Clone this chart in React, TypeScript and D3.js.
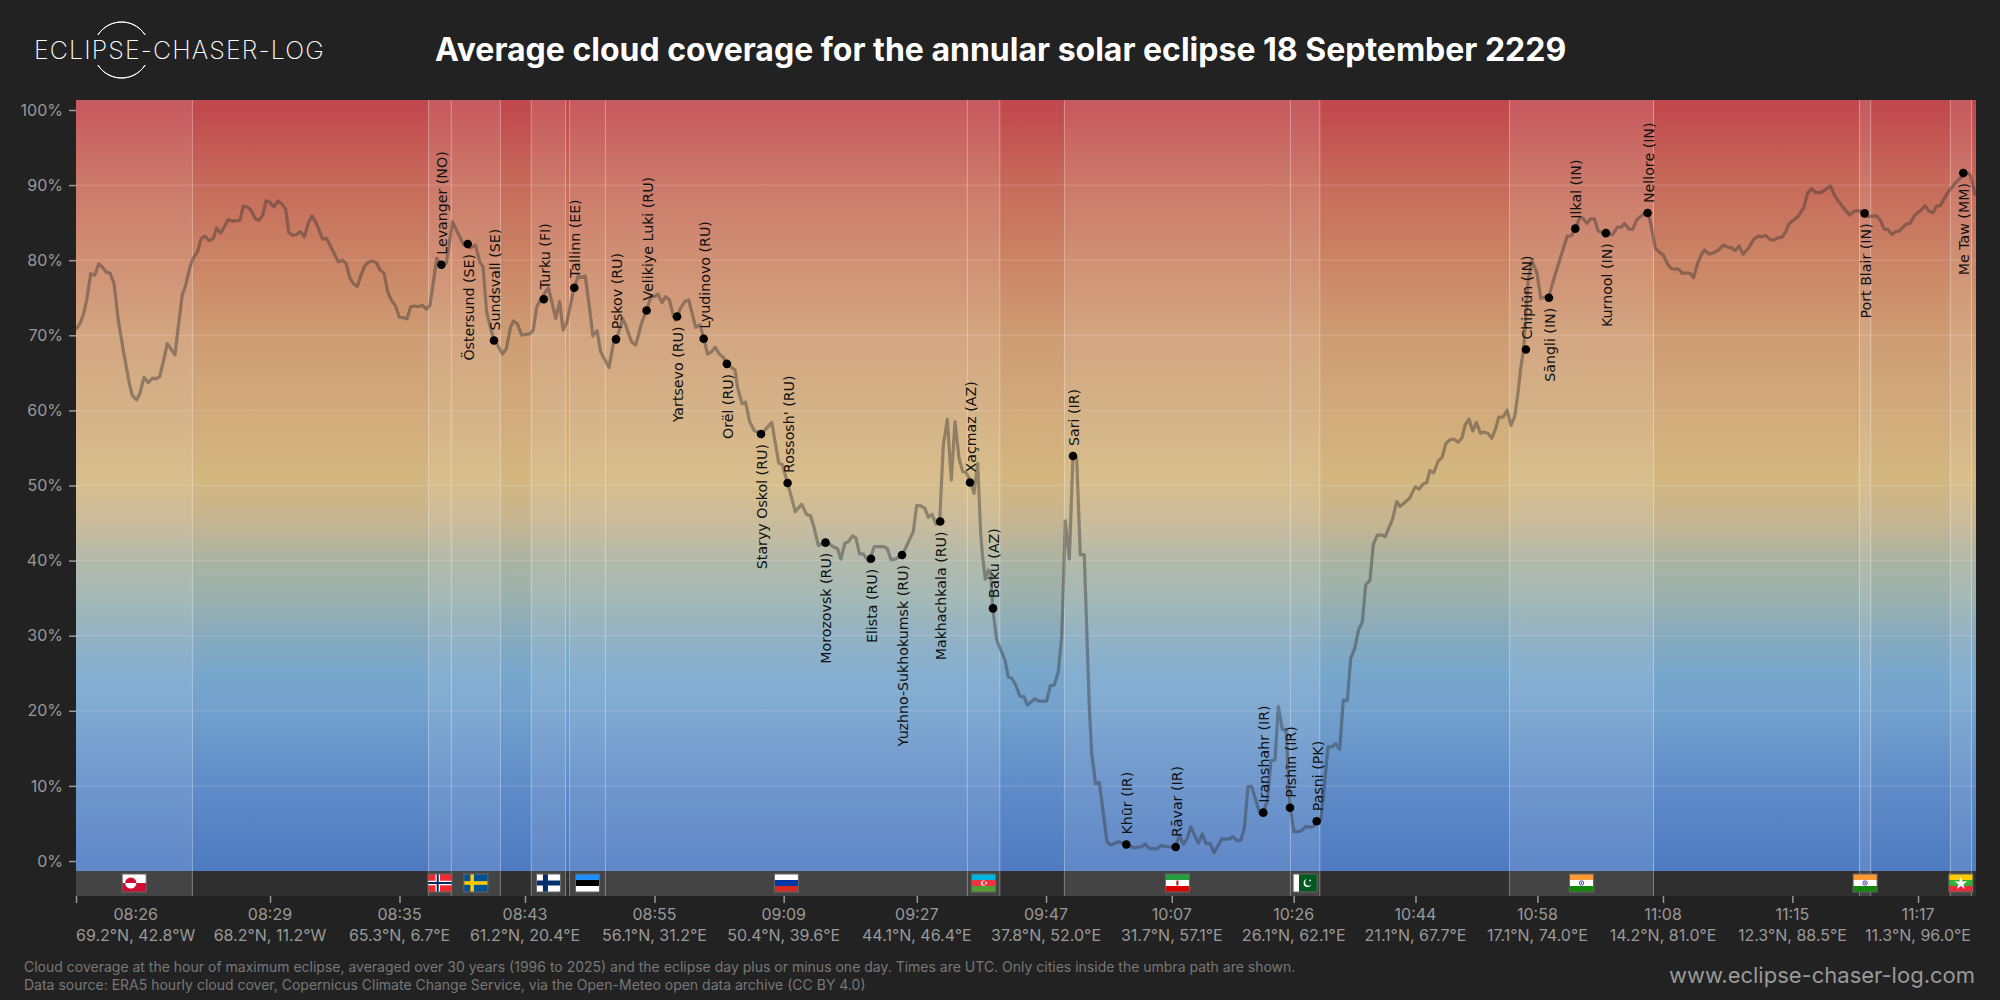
import React, { useEffect, useRef } from 'react';
import * as d3 from 'd3';

const yTicks = [0, 10, 20, 30, 40, 50, 60, 70, 80, 90, 100];

// along-track position of each axis tick (track runs 0 to 1900)
const tickTrack = [0, 194, 323.5, 449, 578.5, 707.7, 840.8, 970, 1095.8, 1217.7, 1339.5, 1461.4, 1587, 1716.4, 1842];
const tickTimes = ['08:26', '08:29', '08:35', '08:43', '08:55', '09:09', '09:27', '09:47', '10:07', '10:26', '10:44', '10:58', '11:08', '11:15', '11:17'];
const tickCoords = [
  '69.2°N, 42.8°W', '68.2°N, 11.2°W', '65.3°N, 6.7°E', '61.2°N, 20.4°E', '56.1°N, 31.2°E',
  '50.4°N, 39.6°E', '44.1°N, 46.4°E', '37.8°N, 52.0°E', '31.7°N, 57.1°E', '26.1°N, 62.1°E',
  '21.1°N, 67.7°E', '17.1°N, 74.0°E', '14.2°N, 81.0°E', '12.3°N, 88.5°E', '11.3°N, 96.0°E',
];

// land spans along the track: flag code, start, end
const countries: [string, number, number][] = [
  ['GL', 0, 116.4], ['NO', 352.6, 375.3], ['SE', 375.3, 424.4], ['FI', 455.25, 489.6], ['EE', 493.6, 529.4],
  ['RU', 529.4, 891.4], ['AZ', 891.4, 923.8], ['IR', 988.4, 1214.4], ['PK', 1214.4, 1243.8],
  ['IN', 1433.6, 1577.5], ['IN', 1783.5, 1794.7], ['MM', 1874.3, 1895.5],
];

// name, track, cloud %, label above the dot?
const cities: [string, number, number, boolean][] = [
  ['Levanger (NO)', 365.4, 79.4, true], ['Östersund (SE)', 391.7, 82.16, false], ['Sundsvall (SE)', 418, 69.3, true],
  ['Turku (FI)', 467.8, 74.8, true], ['Tallinn (EE)', 498.3, 76.34, true], ['Pskov (RU)', 540, 69.46, true],
  ['Velikiye Luki (RU)', 570.6, 73.3, true], ['Yartsevo (RU)', 601.1, 72.5, false], ['Lyudinovo (RU)', 627.7, 69.55, true],
  ['Orël (RU)', 650.9, 66.2, false], ['Staryy Oskol (RU)', 685, 56.85, false], ["Rossosh' (RU)", 711.6, 50.33, true],
  ['Morozovsk (RU)', 749.5, 42.39, false], ['Elista (RU)', 795, 40.25, false], ['Yuzhno-Sukhokumsk (RU)', 826, 40.75, false],
  ['Makhachkala (RU)', 864.2, 45.2, false], ['Xaçmaz (AZ)', 894, 50.4, true], ['Baku (AZ)', 917, 33.64, true],
  ['Sari (IR)', 997, 53.93, true], ['Khūr (IR)', 1050.3, 2.2, true], ['Rāvar (IR)', 1099.7, 1.86, true],
  ['Iranshahr (IR)', 1187.3, 6.44, true], ['Pīshīn (IR)', 1214, 7.1, true], ['Pasni (PK)', 1240.7, 5.3, true],
  ['Chiplūn (IN)', 1449.9, 68.1, true], ['Sāngli (IN)', 1472.9, 75, false], ['Ilkal (IN)', 1499.3, 84.2, true],
  ['Kurnool (IN)', 1529.9, 83.6, false], ['Nellore (IN)', 1571.6, 86.28, true], ['Port Blair (IN)', 1788.6, 86.24, false],
  ['Me Taw (MM)', 1887.3, 91.6, false],
];

// cloud cover along the track: [track, %]
const cloudAtlantic: [number, number][] = [
  [0, 70.8], [4, 71.6], [7.3, 72.7], [10.7, 74.7], [14.7, 78.2], [18.7, 78], [22.7, 79.5], [26.7, 79.05], [30.3, 78.4], [34, 78.3],
  [38, 76.9], [42.3, 72], [47.3, 68], [53, 63.8], [56.3, 62], [60.7, 61.4], [64, 62.3], [68, 64.4], [72.3, 63.7], [76.7, 64.3],
  [80, 64.2], [83.7, 64.5], [87.3, 66.5], [91.3, 68.9], [99, 67.4], [102.3, 71.2], [106.3, 75.4], [109.7, 76.7], [114, 79.1], [117.3, 80.3],
  [121.7, 81.2], [125.3, 82.9], [129, 83.2], [133, 82.6], [137.3, 82.9], [140.7, 84.3], [144.7, 83.6], [152.3, 85.4], [156.7, 85.2], [164, 85.3],
  [167.3, 87.2], [171.3, 87.1], [175.3, 86.6], [179.3, 85.5], [183, 85.35], [186.7, 86], [190, 87.9], [194, 87.7], [197.7, 87.1], [202, 87.9],
  [205.7, 87.5], [209.7, 86.8], [212.7, 83.7], [216.7, 83.3], [220.3, 83.4], [224.7, 83.8], [228.3, 83.1], [232.3, 84.9], [236, 85.9], [240, 85],
  [246.7, 82.8], [250.7, 82.9], [262.3, 79.8], [266.3, 80], [270, 79.6], [274, 77.6], [277.3, 76.9], [281.3, 76.5], [285, 78], [289, 79.3],
  [293.3, 79.8], [296.7, 79.9], [300.7, 79.6], [304, 78.7], [308, 78.3], [311.7, 75.8], [315.7, 74.6], [319.3, 74], [323.3, 72.4], [327.3, 72.35],
  [331, 72.2], [334.7, 73.8], [338.7, 73.9], [342.3, 73.8], [346.3, 74], [350.3, 73.5], [354, 74],
];
const cloudEurope: [number, number][] = [
  [360.8, 80.25], [364.3, 79.6], [370.3, 79.6], [376.6, 85.1], [381.9, 83.6], [387.1, 82.2], [394.1, 81.6], [399.4, 82], [404, 79.7], [407.1, 79.1],
  [410.6, 73.1], [417, 69.8], [426.4, 67.5], [430.3, 68.2], [434.5, 71.06], [437.3, 71.9], [441.5, 71.5], [445.7, 70], [453.8, 70.2], [457.3, 70.7],
  [460.8, 73.8], [466, 75.1], [472.4, 76.3], [479.7, 72.25], [483.6, 74.5], [487.1, 70.7], [491, 71.8], [497.6, 76], [502.2, 77.9], [505.7, 77.7],
  [509.2, 77.9], [513.4, 73.8], [516.9, 69.9], [521.1, 70.6], [524.6, 67.8], [533, 65.7], [538, 69.4], [542.2, 70.2], [546.7, 72.25], [550.2, 71.15],
  [555.5, 69.15], [559.7, 68.7], [566, 71.8], [571.3, 73.6], [574.8, 75.15], [578.3, 75.15], [581.8, 75.5], [586, 74.35], [589.5, 75.15], [593.4, 74.7],
  [597.6, 72.5], [599.3, 72], [604.6, 73.6], [608.8, 74.5], [612.7, 74.7], [619.7, 71.06], [623.9, 71.4], [627.4, 69.8], [631.6, 67.5], [635.5, 67.8],
  [639.3, 68.4], [643.2, 67.5], [646.7, 67.15], [650.9, 66.3], [655.5, 65.7], [659, 65.4], [661.4, 63.15], [666, 60.9], [669.5, 61.1], [673.7, 58.5],
  [678.3, 57.3], [685.3, 56.85], [690.5, 57.6], [695.8, 58.4], [702.8, 52.95], [706.3, 52.8], [711.6, 50.3], [716.1, 48.1], [719.3, 46.5], [725.6, 47.5],
  [730.9, 46.1], [734.4, 46], [737.9, 44.5], [742.4, 42], [749.5, 42.4], [753.7, 42.2], [757.2, 41.85], [761.4, 41.6], [764.9, 40.2], [768.8, 42.3],
  [772.3, 42.5], [776.5, 43.3], [780, 43], [783.5, 40.9], [787, 40.9], [793, 39.85], [798.2, 41.85], [808, 41.85], [811.5, 41.55], [815, 40.1],
  [819.3, 40.2], [826.3, 40.75], [837.3, 43.85], [840.7, 47.36], [844.7, 47.3], [848.7, 47], [852.3, 45.76], [856, 46.16], [860, 44.87], [863.7, 45.27],
];
const cloudIran: [number, number][] = [
  [867.3, 55.4], [871.3, 58.8], [875.3, 50.7], [879, 58.5], [883, 53.6], [886.7, 51.84], [890, 51.75], [894.7, 50.5], [898, 48.95], [901.7, 52.95],
  [904.7, 43.6], [906.3, 40.96], [909.3, 37.5], [912.3, 38.75], [914.7, 38.3], [916.7, 33.64], [920.7, 29.43], [924.7, 28.1], [929, 26.76], [932.3, 24.46],
  [935.7, 24.37], [939.7, 23.44], [944, 21.93], [948, 21.88], [951.3, 20.77], [959, 21.6], [963, 21.3], [970.7, 21.3], [974.3, 23.35], [978.3, 23.43],
  [982.3, 25.2], [985.7, 29.87], [987.3, 36.5], [989.3, 45.3], [993.3, 40.2], [997, 53.9], [1000.7, 53.6], [1004.3, 40.8], [1008.3, 40.8], [1011.3, 28.5],
  [1013.3, 20.5], [1015.7, 14.3], [1019.7, 10.25], [1023.3, 10.47], [1027.3, 6.35], [1031, 2.57], [1034.7, 2.13], [1042.3, 2.57], [1050, 2.26], [1057.3, 1.77],
  [1065.7, 1.9], [1069, 2.26], [1073, 1.68], [1080.7, 1.6], [1084.7, 2.04], [1092.3, 1.9], [1099.7, 1.86], [1103.3, 3.46], [1107.3, 2.2], [1111.3, 3],
  [1114.7, 4.57], [1122.3, 2.35], [1126.3, 3.6], [1130, 2.35], [1134, 2.35], [1138, 1.1], [1145.7, 2.9], [1153, 2.9], [1156.7, 3.24], [1160.7, 2.7],
  [1164.7, 2.75], [1168.3, 4.35], [1172, 9.9], [1175.7, 9.9], [1179.7, 8.1], [1183.7, 6.35], [1187.3, 6.4], [1191.3, 8.1], [1195, 13.36], [1199, 13.45],
  [1202.3, 20.55], [1206.3, 17.5], [1210, 17.5], [1214, 7.2], [1218, 3.9], [1222, 3.9], [1225.7, 4.04], [1229.7, 4.57], [1234, 4.5], [1237.3, 4.57],
  [1244.7, 5.55], [1248, 9.45], [1252, 15.2], [1256, 15.2], [1259.7, 15.6], [1263.7, 14.87], [1267.3, 21.44], [1271.3, 21.35], [1274.7, 26.98], [1278.7, 28.3],
  [1282.7, 30.85], [1286.3, 31.8], [1289.7, 36.75], [1294, 37.4], [1297.3, 42.17], [1301.3, 43.4], [1305.3, 43.4], [1309.3, 43.2], [1316.7, 45.6], [1320.7, 47.85],
];
const cloudIndia: [number, number][] = [
  [1324, 47.2], [1333.6, 48.3], [1339.3, 49.85], [1343.1, 49.5], [1347, 50.2], [1350.8, 50.4], [1353.9, 51.97], [1357.7, 51.7], [1362.3, 53.3], [1366.1, 53.75],
  [1369.9, 55.6], [1373.8, 56.06], [1377.6, 56.2], [1382.2, 55.75], [1386, 56.35], [1389.1, 58.05], [1392.9, 58.85], [1396.7, 57.25], [1400.5, 58.4], [1404.4, 56.95],
  [1407.4, 57.1], [1412, 56.95], [1415.8, 56.3], [1419.7, 57.6], [1422.7, 59.07], [1427.3, 59.15], [1431.2, 60.05], [1435, 57.97], [1438.8, 59.25], [1441.9, 62.27],
  [1444.9, 65.8], [1447.6, 68.1], [1452.2, 77.4], [1456, 79.94], [1461, 78.25], [1464.8, 74.9], [1469.4, 75.15], [1472.5, 75], [1479, 78], [1483.6, 80],
  [1491.2, 83.2], [1495.4, 83.26], [1499.3, 84.2], [1503.9, 85.7], [1507, 85.57], [1510.8, 84.9], [1514.6, 85.5], [1518.4, 85.5], [1522.2, 83.9], [1526.8, 83.6],
  [1532.6, 83.6], [1536.4, 83.36], [1541.4, 84.4], [1545.2, 84.4], [1548.6, 84.9], [1552.9, 84.15], [1556.7, 84.1], [1560.5, 85.35], [1564.3, 85.8], [1571.6, 86.55],
  [1574.7, 84.9], [1579.3, 81.6], [1583.5, 81.05], [1587.3, 80.7], [1591.1, 79.6], [1595, 78.9], [1598.8, 78.8], [1602.6, 78.8], [1606.4, 78.25], [1611, 78.3],
];
const cloudBengal: [number, number][] = [
  [1614.1, 78.25], [1617.5, 77.67], [1621.7, 79.6], [1625.2, 80.7], [1628.6, 81.36], [1633.2, 80.8], [1637.8, 81], [1642.4, 81.36], [1647.4, 82], [1651.2, 81.76],
  [1655.4, 81.67], [1659.2, 81.27], [1663.1, 81.9], [1666.9, 80.8], [1672.3, 81.58], [1678, 82.8], [1681.8, 83.2], [1685.7, 83.13], [1689.5, 83.3], [1694.5, 82.7],
  [1698.3, 82.7], [1702.1, 83], [1706, 83.04], [1709.8, 83.8], [1712.8, 84.8], [1717.4, 85.35], [1722, 85.8], [1727.7, 87], [1731.6, 88.9], [1735.4, 89.5],
  [1740, 89], [1745, 89.03], [1749.6, 89.4], [1754.5, 89.9], [1758.4, 88.68], [1762.2, 87.9], [1767.9, 86.9], [1773.7, 86], [1778.3, 86.55], [1783.2, 86.6],
  [1788.2, 86.24], [1791.7, 85.8], [1800.5, 85.9], [1804.3, 85.35], [1808.1, 84.15], [1812, 84.1], [1815.8, 83.44], [1819.6, 83.8], [1823.4, 83.9], [1829.9, 84.8],
  [1834.1, 84.9], [1838.7, 86], [1844.5, 86.6], [1849.1, 87.26], [1852.9, 86.55], [1857.1, 86.33], [1860.5, 87.2], [1864.4, 87.3], [1871.3, 88.9], [1878.9, 90.2],
  [1887.3, 91.35], [1891.5, 91.6], [1894.2, 91.35], [1896.9, 90], [1899.2, 88.6],
];

const gradientPct = [101.3, 100, 90, 80, 70, 60, 51, 45, 40, 35, 30, 25, 20, 10, 0, -1.3];
const gradientColors = ['#c0494d', '#c14a4e', '#c76b5a', '#cb8465', '#ce9c73', '#d1aa7b', '#d4b77f', '#c5b591', '#aab3a2', '#9bb1ae', '#87aabe', '#78a7cc', '#72a0cc', '#5f8cc8', '#507cc2', '#4f7bc2'];

const FONT = 'Inter, sans-serif';

const flagDraw: Record<string, (f: any) => void> = {
  GL: f => {
    f.append('rect').attr('width', 24).attr('height', 9).attr('fill', '#fff');
    f.append('rect').attr('y', 9).attr('width', 24).attr('height', 9).attr('fill', '#d00c33');
    f.append('path').attr('d', 'M3 9a5.6 5.6 0 0 1 11.2 0z').attr('fill', '#d00c33');
    f.append('path').attr('d', 'M3 9a5.6 5.6 0 0 0 11.2 0z').attr('fill', '#fff');
  },
  NO: f => {
    f.append('rect').attr('width', 24).attr('height', 18).attr('fill', '#ef2b2d');
    f.append('rect').attr('x', 7.5).attr('width', 4.5).attr('height', 18).attr('fill', '#fff');
    f.append('rect').attr('y', 6.75).attr('width', 24).attr('height', 4.5).attr('fill', '#fff');
    f.append('rect').attr('x', 8.75).attr('width', 2).attr('height', 18).attr('fill', '#002868');
    f.append('rect').attr('y', 8).attr('width', 24).attr('height', 2).attr('fill', '#002868');
  },
  SE: f => {
    f.append('rect').attr('width', 24).attr('height', 18).attr('fill', '#005293');
    f.append('rect').attr('x', 6.5).attr('width', 3.6).attr('height', 18).attr('fill', '#fecb00');
    f.append('rect').attr('y', 7.2).attr('width', 24).attr('height', 3.6).attr('fill', '#fecb00');
  },
  FI: f => {
    f.append('rect').attr('width', 24).attr('height', 18).attr('fill', '#fff');
    f.append('rect').attr('x', 6.5).attr('width', 5).attr('height', 18).attr('fill', '#002f6c');
    f.append('rect').attr('y', 6.5).attr('width', 24).attr('height', 5).attr('fill', '#002f6c');
  },
  EE: f => {
    f.append('rect').attr('width', 24).attr('height', 6).attr('fill', '#1e90ff');
    f.append('rect').attr('y', 6).attr('width', 24).attr('height', 6).attr('fill', '#000');
    f.append('rect').attr('y', 12).attr('width', 24).attr('height', 6).attr('fill', '#fff');
  },
  RU: f => {
    f.append('rect').attr('width', 24).attr('height', 6).attr('fill', '#fff');
    f.append('rect').attr('y', 6).attr('width', 24).attr('height', 6).attr('fill', '#0039a6');
    f.append('rect').attr('y', 12).attr('width', 24).attr('height', 6).attr('fill', '#d52b1e');
  },
  AZ: f => {
    f.append('rect').attr('width', 24).attr('height', 6).attr('fill', '#00b5e2');
    f.append('rect').attr('y', 6).attr('width', 24).attr('height', 6).attr('fill', '#ef3340');
    f.append('rect').attr('y', 12).attr('width', 24).attr('height', 6).attr('fill', '#509e2f');
    f.append('circle').attr('cx', 12).attr('cy', 9).attr('r', 2.6).attr('fill', '#fff');
    f.append('circle').attr('cx', 12.8).attr('cy', 9).attr('r', 2.1).attr('fill', '#ef3340');
    f.append('circle').attr('cx', 14.6).attr('cy', 9).attr('r', 0.9).attr('fill', '#fff');
  },
  IR: f => {
    f.append('rect').attr('width', 24).attr('height', 6).attr('fill', '#239f40');
    f.append('rect').attr('y', 6).attr('width', 24).attr('height', 6).attr('fill', '#fff');
    f.append('rect').attr('y', 12).attr('width', 24).attr('height', 6).attr('fill', '#da0000');
    f.append('rect').attr('x', 11).attr('y', 6.6).attr('width', 2).attr('height', 4.8).attr('fill', '#da0000');
  },
  PK: f => {
    f.append('rect').attr('width', 6).attr('height', 18).attr('fill', '#fff');
    f.append('rect').attr('x', 6).attr('width', 18).attr('height', 18).attr('fill', '#01591f');
    f.append('circle').attr('cx', 14.5).attr('cy', 9).attr('r', 4).attr('fill', '#fff');
    f.append('circle').attr('cx', 15.7).attr('cy', 8.2).attr('r', 3.6).attr('fill', '#01591f');
    f.append('circle').attr('cx', 17).attr('cy', 6.4).attr('r', 0.9).attr('fill', '#fff');
  },
  IN: f => {
    f.append('rect').attr('width', 24).attr('height', 6).attr('fill', '#ff9933');
    f.append('rect').attr('y', 6).attr('width', 24).attr('height', 6).attr('fill', '#fff');
    f.append('rect').attr('y', 12).attr('width', 24).attr('height', 6).attr('fill', '#138808');
    f.append('circle').attr('cx', 12).attr('cy', 9).attr('r', 2.2).attr('fill', 'none').attr('stroke', '#000080').attr('stroke-width', 0.7);
    f.append('circle').attr('cx', 12).attr('cy', 9).attr('r', 0.8).attr('fill', '#000080');
  },
  MM: f => {
    f.append('rect').attr('width', 24).attr('height', 6).attr('fill', '#fecb00');
    f.append('rect').attr('y', 6).attr('width', 24).attr('height', 6).attr('fill', '#34b233');
    f.append('rect').attr('y', 12).attr('width', 24).attr('height', 6).attr('fill', '#ea2839');
    f.append('path').attr('d', d3.symbol().type(d3.symbolStar).size(50)() as string).attr('transform', 'translate(12,9.5)').attr('fill', '#fff');
  },
};

const App: React.FC = () => {
  const ref = useRef<SVGSVGElement>(null);

  useEffect(() => {
    if (!ref.current) return;
    const svg = d3.select(ref.current);
    svg.selectAll('*').remove();

    const width = 2000;
    const height = 1000;
    const margin = { left: 76, right: 24, top: 100, plotBottom: 871, bandBottom: 896 };

    svg.append('rect').attr('width', width).attr('height', height).attr('fill', '#222222');

    const x = d3.scaleLinear().domain([0, 1900]).range([margin.left, width - margin.right]);
    const y = d3.scaleLinear().domain([0, 100]).range([861, 110]);

    const defs = svg.append('defs');
    const grad = defs.append('linearGradient')
      .attr('id', 'cloudGrad')
      .attr('gradientUnits', 'userSpaceOnUse')
      .attr('x1', 0).attr('x2', 0)
      .attr('y1', y(gradientPct[0])).attr('y2', y(gradientPct[gradientPct.length - 1]));
    const span = y(gradientPct[gradientPct.length - 1]) - y(gradientPct[0]);
    gradientPct.forEach((p, i) => {
      grad.append('stop')
        .attr('offset', (y(p) - y(gradientPct[0])) / span)
        .attr('stop-color', gradientColors[i]);
    });

    // Plot background and flag strip
    svg.append('rect')
      .attr('x', x(0)).attr('y', margin.top)
      .attr('width', x(1900) - x(0)).attr('height', margin.plotBottom - margin.top)
      .attr('fill', 'url(#cloudGrad)');
    svg.append('rect')
      .attr('x', x(0)).attr('y', margin.plotBottom)
      .attr('width', x(1900) - x(0)).attr('height', margin.bandBottom - margin.plotBottom)
      .attr('fill', '#2f2f2f');

    // Land spans
    svg.selectAll('.land')
      .data(countries)
      .enter().append('rect')
      .attr('class', 'land')
      .attr('x', d => x(d[1]))
      .attr('y', margin.top)
      .attr('width', d => x(d[2]) - x(d[1]))
      .attr('height', margin.bandBottom - margin.top)
      .attr('fill', 'rgba(255,255,255,0.1)');

    const edges = Array.from(new Set(countries.flatMap(d => [d[1], d[2]]))).filter(d => d > 0);
    svg.selectAll('.edge')
      .data(edges)
      .enter().append('line')
      .attr('class', 'edge')
      .attr('x1', d => x(d)).attr('x2', d => x(d))
      .attr('y1', margin.top).attr('y2', margin.bandBottom)
      .attr('stroke', 'rgba(255,255,255,0.35)')
      .attr('stroke-width', 1);

    // Grid
    svg.selectAll('.grid')
      .data(yTicks.filter(d => d > 0 && d < 100))
      .enter().append('line')
      .attr('class', 'grid')
      .attr('x1', x(0)).attr('x2', x(1900))
      .attr('y1', d => y(d)).attr('y2', d => y(d))
      .attr('stroke', 'rgba(255,255,255,0.16)')
      .attr('stroke-width', 1);

    // Cloud line
    const cloudLine = [...cloudAtlantic, ...cloudEurope, ...cloudIran, ...cloudIndia, ...cloudBengal];
    const line = d3.line<[number, number]>().x(d => x(d[0])).y(d => y(d[1]));
    svg.append('path')
      .datum(cloudLine)
      .attr('d', line)
      .attr('fill', 'none')
      .attr('stroke', 'rgba(50,50,50,0.42)')
      .attr('stroke-width', 3.2)
      .attr('stroke-linejoin', 'round');

    // Cities
    svg.selectAll('.city')
      .data(cities)
      .enter().append('circle')
      .attr('class', 'city')
      .attr('cx', d => x(d[1]))
      .attr('cy', d => y(d[2]))
      .attr('r', 4.3)
      .attr('fill', '#000');

    svg.selectAll('.cityLabel')
      .data(cities)
      .enter().append('text')
      .attr('class', 'cityLabel')
      .attr('transform', d => `translate(${x(d[1]) + 1},${y(d[2]) + (d[3] ? -10 : 10)}) rotate(-90)`)
      .attr('dy', '0.35em')
      .attr('text-anchor', d => (d[3] ? 'start' : 'end'))
      .style('font-family', '"DejaVu Sans", sans-serif')
      .style('font-size', '14.2px')
      .style('fill', '#111')
      .text(d => d[0]);

    // Y axis
    const yAxis = svg.append('g')
      .attr('transform', `translate(${margin.left},0)`)
      .call(d3.axisLeft(y).tickValues(yTicks).tickFormat(d => `${d}%`).tickSize(7).tickPadding(6));
    yAxis.select('.domain').remove();
    yAxis.selectAll('text').style('fill', '#999').style('font-family', FONT).style('font-size', '16px');
    yAxis.selectAll('.tick line').style('stroke', '#999').style('stroke-width', 1.5);

    // X axis
    const xAxis = svg.append('g')
      .attr('transform', `translate(0,${margin.bandBottom})`)
      .call(d3.axisBottom(x).tickValues(tickTrack).tickFormat(() => '').tickSize(7));
    xAxis.select('.domain').remove();
    xAxis.selectAll('.tick line').style('stroke', '#999').style('stroke-width', 1.5);

    tickTrack.forEach((t, i) => {
      const g = svg.append('g').style('font-family', FONT).style('font-size', '16px').style('fill', '#999').attr('text-anchor', 'middle');
      const coord = g.append('text').attr('y', 941).text(tickCoords[i]);
      g.append('text').attr('y', 920).text(tickTimes[i]);
      const w = (coord.node() as SVGTextElement).getComputedTextLength();
      // keep the first label inside the plot's left edge
      g.attr('transform', `translate(${Math.max(x(t), margin.left + w / 2)},0)`);
    });

    // Flags
    countries.forEach(([code, a, b]) => {
      const f = svg.append('g').attr('transform', `translate(${x((a + b) / 2) - 12},874)`);
      flagDraw[code](f);
      f.append('rect').attr('width', 24).attr('height', 18).attr('fill', 'none').attr('stroke', '#666').attr('stroke-width', 1);
    });

    // Header
    svg.append('text')
      .attr('x', 435).attr('y', 61)
      .style('font-family', FONT).style('font-weight', 700).style('font-size', '32px').style('fill', '#fff')
      .text('Average cloud coverage for the annular solar eclipse 18 September 2229');

    svg.append('text')
      .attr('x', 34).attr('y', 59)
      .style('font-family', FONT).style('font-weight', 200).style('font-size', '25px').style('letter-spacing', '1.1px').style('fill', '#fff')
      .text('ECLIPSE-CHASER-LOG');
    const arc = d3.arc();
    const arcs = [
      { startAngle: -1.0, endAngle: 1.0 },
      { startAngle: Math.PI - 1.0, endAngle: Math.PI + 1.0 },
    ];
    arcs.forEach(a => {
      svg.append('path')
        .attr('d', arc({ innerRadius: 28, outerRadius: 28, ...a }) as string)
        .attr('transform', 'translate(121.5,50)')
        .attr('fill', 'none').attr('stroke', '#fff').attr('stroke-width', 1);
    });

    // Footer
    const foot = svg.append('g').style('font-family', FONT).style('font-size', '14px').style('fill', '#777');
    foot.append('text').attr('x', 24).attr('y', 972)
      .text('Cloud coverage at the hour of maximum eclipse, averaged over 30 years (1996 to 2025) and the eclipse day plus or minus one day. Times are UTC. Only cities inside the umbra path are shown.');
    foot.append('text').attr('x', 24).attr('y', 990)
      .text('Data source: ERA5 hourly cloud cover, Copernicus Climate Change Service, via the Open-Meteo open data archive (CC BY 4.0)');

    svg.append('text')
      .attr('x', 1975).attr('y', 983).attr('text-anchor', 'end')
      .style('font-family', FONT).style('font-size', '22px').style('fill', '#999')
      .text('www.eclipse-chaser-log.com');
  }, []);

  return <svg ref={ref} width={2000} height={1000} style={{ position: 'absolute', left: 0, top: 0 }} />;
};

export default App;
